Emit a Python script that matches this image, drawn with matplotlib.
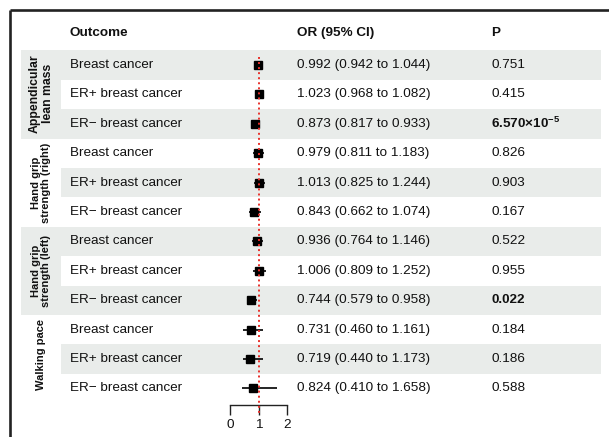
import matplotlib
matplotlib.use("Agg")
import matplotlib.pyplot as plt
from matplotlib.patches import Rectangle
from matplotlib.lines import Line2D

plt.rcParams['font.family'] = ['Liberation Sans', 'DejaVu Sans']
plt.rcParams['mathtext.fontset'] = 'custom'
plt.rcParams['mathtext.rm'] = 'Liberation Sans'
plt.rcParams['mathtext.bf'] = 'Liberation Sans:bold'

# ---------------- data ----------------
groups = ['Appendicular\nlean mass', 'Hand grip\nstrength (right)',
          'Hand grip\nstrength (left)', 'Walking pace']
outcomes = ['Breast cancer', 'ER+ breast cancer', 'ER\u2212 breast cancer',
            'Breast cancer', 'ER+ breast cancer', 'ER\u2212 breast cancer',
            'Breast cancer', 'ER+ breast cancer', 'ER\u2212 breast cancer',
            'Breast cancer', 'ER+ breast cancer', 'ER\u2212 breast cancer']
or_vals = [0.992, 1.023, 0.873, 0.979, 1.013, 0.843,
           0.936, 1.006, 0.744, 0.731, 0.719, 0.824]
ci_low = [0.942, 0.968, 0.817, 0.811, 0.825, 0.662,
          0.764, 0.809, 0.579, 0.460, 0.440, 0.410]
ci_high = [1.044, 1.082, 0.933, 1.183, 1.244, 1.074,
           1.146, 1.252, 0.958, 1.161, 1.173, 1.658]
p_labels = ['0.751', '0.415', r'$\mathbf{6.570{\times}10^{-5}}$', '0.826', '0.903', '0.167',
            '0.522', '0.955', '0.022', '0.184', '0.186', '0.588']
p_bold = [False, False, True, False, False, False,
          False, False, True, False, False, False]
headers = ['Outcome', 'OR (95% CI)', 'P']
x_ticks = [0, 1, 2]

# ---------------- layout (pixels) ----------------
W, H = 609, 437
ROW0, ROWH = 65.0, 29.4
def ypx(i):
    return ROW0 + ROWH * i

fig = plt.figure(figsize=(W / 100, H / 100), dpi=100)
bg = fig.add_axes([0, 0, 1, 1])
bg.set_xlim(0, W)
bg.set_ylim(H, 0)
bg.axis('off')

txt_color = '#111111'
band = '#e9ecea'
fs = 9.7
group_fs = [8.8, 8.0, 8.0, 8.0]
group_dy = [-1, 0, 0, -4]

# row bands
for i in range(len(outcomes)):
    if i % 2 == 0:
        bg.add_patch(Rectangle((61, ypx(i) - ROWH / 2), 540, ROWH,
                               facecolor=band, edgecolor='none', zorder=0))
# group bands and labels
for g, name in enumerate(groups):
    top = ypx(3 * g) - ROWH / 2
    if g % 2 == 0:
        bg.add_patch(Rectangle((21, top), 40, 3 * ROWH,
                               facecolor=band, edgecolor='none', zorder=0))
    bg.text(41, ypx(3 * g + 1) + group_dy[g], name, rotation=90, ha='center', va='center',
            fontsize=group_fs[g], fontweight='bold', color=txt_color, linespacing=1.12)

# headers
bg.text(70, 33, headers[0], fontsize=fs, fontweight='bold', va='center', color=txt_color)
bg.text(297, 33, headers[1], fontsize=fs, fontweight='bold', va='center', color=txt_color)
bg.text(491, 33, headers[2], fontsize=fs, fontweight='bold', va='center', color=txt_color)

# row texts
for i in range(len(outcomes)):
    y = ypx(i)
    bg.text(70, y, outcomes[i], fontsize=fs, va='center', color=txt_color)
    bg.text(297, y, f'{or_vals[i]:.3f} ({ci_low[i]:.3f} to {ci_high[i]:.3f})',
            fontsize=fs, va='center', color=txt_color)
    bg.text(491, y, p_labels[i], fontsize=fs, va='center', color=txt_color,
            fontweight='bold' if p_bold[i] else 'normal')

# frame
bg.add_line(Line2D([10, W], [10, 10], color='#222222', lw=1.9, solid_capstyle='butt'))
bg.add_line(Line2D([10, 10], [10, H], color='#222222', lw=1.9, solid_capstyle='butt'))

# ---------------- forest axes ----------------
x0px, unit = 230.0, 28.5
axL, axR = 205.0, 315.0
axT, axB = 0.0, 404.7
fa = fig.add_axes([axL / W, 1 - axB / H, (axR - axL) / W, (axB - axT) / H])
fa.patch.set_alpha(0)
fa.set_xlim((axL - x0px) / unit, (axR - x0px) / unit)
fa.set_ylim((axB - ROW0) / ROWH, (axT - ROW0) / ROWH)
for s in ['top', 'right', 'left']:
    fa.spines[s].set_visible(False)
fa.spines['bottom'].set_bounds(0, 2)
fa.spines['bottom'].set_linewidth(1.0)
fa.spines['bottom'].set_color('#222222')
fa.set_yticks([])
fa.set_xticks(x_ticks)
fa.set_xticklabels([str(t) for t in x_ticks])
fa.tick_params(axis='x', length=7.2, width=1.0, color='#222222', pad=3,
               labelsize=fs, labelcolor=txt_color)

rows = list(range(len(or_vals)))
fa.hlines(rows, ci_low, ci_high, color='black', lw=1.2, zorder=3)
fa.plot(or_vals, rows, 's', color='black', markersize=5.6, zorder=4)
fa.plot([1, 1], [(57 - ROW0) / ROWH, (414 - ROW0) / ROWH], color='#e8302a',
        lw=1.4, linestyle=(0, (1, 1.6)), zorder=5, clip_on=False)

fig.savefig('out.png', dpi=100)
